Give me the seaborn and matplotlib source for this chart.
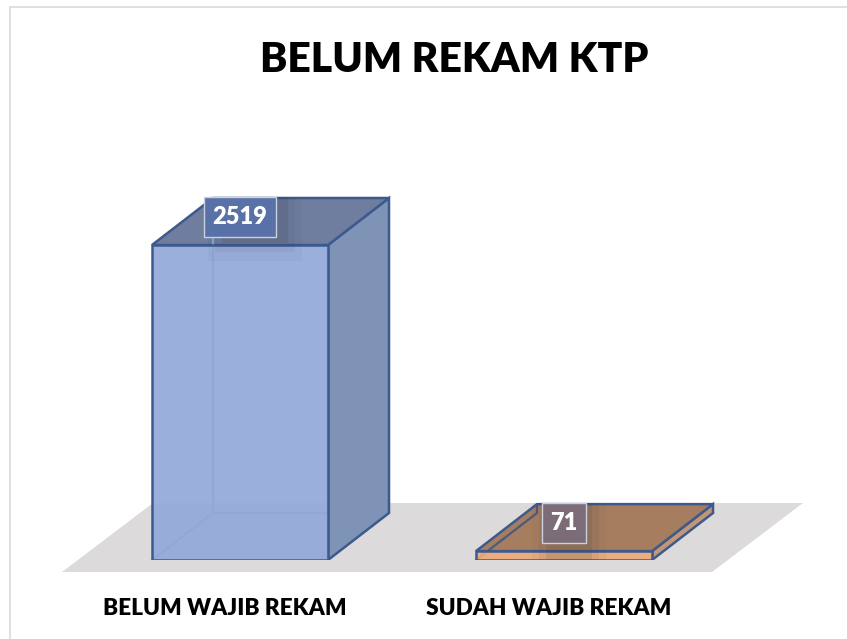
import matplotlib
matplotlib.use("Agg")
import matplotlib.pyplot as plt
from matplotlib.lines import Line2D
from matplotlib.patches import Polygon, Rectangle
from matplotlib.transforms import ScaledTranslation
import pandas as pd
import seaborn as sns

categories = ["BELUM WAJIB REKAM", "SUDAH WAJIB REKAM"]
values = [2519, 71]
title = "BELUM REKAM KTP"

W, H = 847, 639
BASE_PX = 560            # pixel row of value 0
PX_PER_UNIT = 315 / 2519
CENTER0_PX, STEP_PX = 240, 324
DEPTH_X_PX, DEPTH_Y_PX = 61, 47
front = ["#93A8DA", "#EDA877"]
side = ["#7F93B7", "#C49673"]
top = ["#6F7D9E", "#A77D60"]
box = ["#5871A6", "#7C6C78"]
edge = "#3D5A8E"
inner = ["#86A0D3", "#4A5A80"]

sns.set_theme(style="white")
plt.rcParams["font.family"] = ["Lato", "DejaVu Sans"]
plt.rcParams["font.weight"] = "heavy"

fig = plt.figure(figsize=(W / 100, H / 100), dpi=100, facecolor="white")
ax = fig.add_axes([0, (H - BASE_PX) / H, 1, BASE_PX / H], facecolor="none")

df = pd.DataFrame({"cat": categories, "val": values})
sns.barplot(data=df, x="cat", y="val", hue="cat", palette=front, width=176 / STEP_PX,
            edgecolor=edge, linewidth=1.8, legend=False, dodge=False, ax=ax, zorder=3)

ax.set_xlim(-CENTER0_PX / STEP_PX, (W - CENTER0_PX) / STEP_PX)
ax.set_ylim(0, BASE_PX / PX_PER_UNIT)
sns.despine(ax=ax, left=True, bottom=True, top=True, right=True)
ax.yaxis.set_visible(False)
ax.set_xlabel("")
ax.set_ylabel("")
ax.tick_params(axis="x", length=0, pad=27.5)
shift = ScaledTranslation(-15.5 / 100, 0, fig.dpi_scale_trans)
for lab in ax.get_xticklabels():
    lab.set_fontsize(16.3)
    lab.set_fontweight("heavy")
    lab.set_color("black")
    lab.set_transform(lab.get_transform() + shift)

dx = DEPTH_X_PX / STEP_PX
dy = DEPTH_Y_PX / PX_PER_UNIT


def px_x(p):
    return (p - CENTER0_PX) / STEP_PX


def px_y(p):
    return (BASE_PX - p) / PX_PER_UNIT


# floor
floor_px = [(62, 572), (712, 572), (803, 503), (153, 503)]
ax.add_patch(Polygon([(px_x(a), px_y(b)) for a, b in floor_px], closed=True,
                     facecolor="#DCDADA", edgecolor="none", clip_on=False, zorder=0.5))

bars = [p for p in ax.patches if isinstance(p, Rectangle)][:len(values)]
for i, bar in enumerate(bars):
    x0 = bar.get_x()
    x1 = x0 + bar.get_width()
    y1 = bar.get_height()
    # translucent front so the back edges show through
    bar.set_facecolor(matplotlib.colors.to_rgba(front[i], 0.92))
    # side face
    ax.add_patch(Polygon([(x1, 0), (x1 + dx, dy), (x1 + dx, y1 + dy), (x1, y1)], closed=True,
                         facecolor=side[i], edgecolor=edge, linewidth=1.8, zorder=2.2))
    # top face
    ax.add_patch(Polygon([(x0, y1), (x1, y1), (x1 + dx, y1 + dy), (x0 + dx, y1 + dy)], closed=True,
                         facecolor=top[i], edgecolor=edge, linewidth=1.8, zorder=2.4))
    # hidden edges
    ax.add_line(Line2D([x0, x0 + dx, x0 + dx], [0, dy, y1 + dy], color=inner[i], lw=1.6, zorder=2.8))
    ax.add_line(Line2D([x0 + dx, x1 + dx], [dy, dy], color=inner[i], lw=1.6, zorder=2.1))
    # soft label shadow
    cx = bar.get_x() + bar.get_width() / 2
    ly = y1 + 28 / PX_PER_UNIT
    for grow, a in [(0, 0.10), (7, 0.06), (14, 0.04)]:
        ax.add_patch(Rectangle((cx + (-18 - grow) / STEP_PX, ly - (18 + grow * 1.3 + (8 if i == 0 else 20)) / PX_PER_UNIT),
                               (66 + 2 * grow if i == 0 else 46 + 2 * grow) / STEP_PX,
                               (38 + grow * 1.3 + (8 if i == 0 else 20)) / PX_PER_UNIT,
                               facecolor="#2F3440", edgecolor="none", alpha=a, zorder=3.5))
    # data label
    ax.annotate(str(values[i]), xy=(cx, y1), xytext=(0, 28 * 72 / 100), textcoords="offset points",
                ha="center", va="center", color="white", fontsize=17, fontweight="heavy", zorder=5,
                bbox=dict(boxstyle="square,pad=0.37", facecolor=box[i], edgecolor="#C9D0E0", linewidth=1.0))

fig.suptitle(title, x=454 / W, y=1 - 60 / H, ha="center", va="center",
             fontsize=29.4, fontweight="heavy", color="black")

# chart frame (left and top only are inside the picture)
for xs, ys in [([10 / W, 10 / W], [0, 1 - 7 / H]), ([10 / W, 1], [1 - 7 / H, 1 - 7 / H])]:
    fig.add_artist(Line2D(xs, ys, color="#D9D9D9", lw=1.2, transform=fig.transFigure))

fig.savefig("out.png", dpi=100)
